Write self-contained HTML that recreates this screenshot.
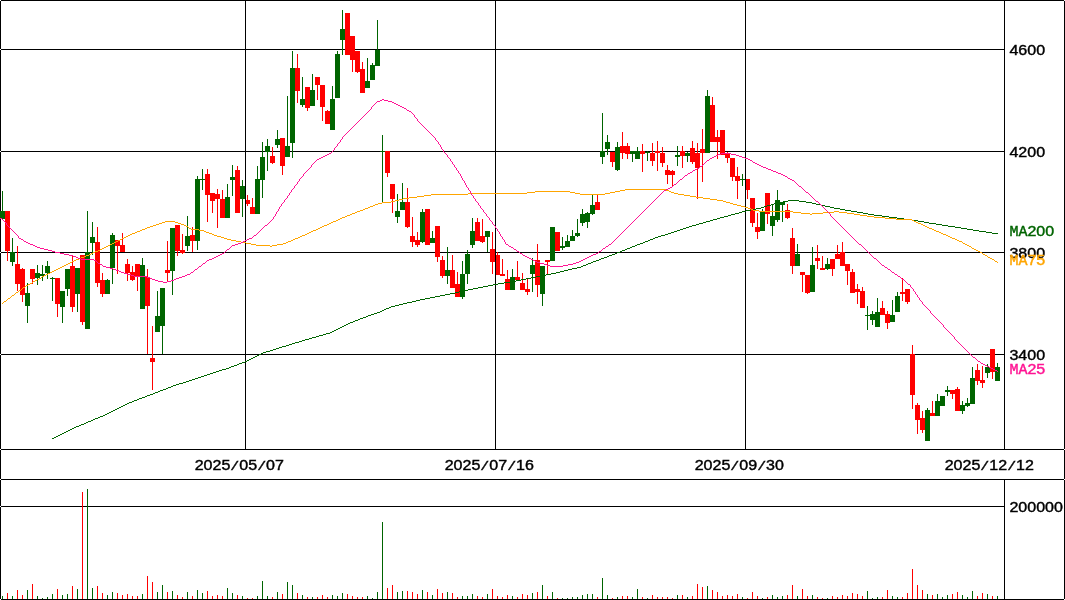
<!DOCTYPE html>
<html lang="ja"><head><meta charset="utf-8"><title>Stock chart</title>
<style>html,body{margin:0;padding:0;background:#fff;overflow:hidden}svg{display:block}text{font-family:"Liberation Sans", sans-serif;font-size:13.85px;}#w{will-change:transform;width:1065px;height:600px}</style></head><body><div id="w">
<svg width="1065" height="600" viewBox="0 0 1065 600">
<rect x="0" y="0" width="1065" height="600" fill="#fff"/>
<g shape-rendering="crispEdges">
<path fill="#000" d="M0 0h1065v1h-1065zM0 599h1065v1h-1065zM0 0v600h1v-600zM1064 0v600h1v-600zM0 49h1005v1h-1005zM0 151h1005v1h-1005zM0 252h1005v1h-1005zM0 354h1005v1h-1005zM0 449h1065v1h-1065zM0 479h1065v1h-1065zM0 506h1005v1h-1005z"/>
</g>
<g shape-rendering="crispEdges">
<path fill="#ff0000" d="M7 211h1v50h-1zM5 211h5v40h-5zM17 246h1v45h-1zM15 264h5v20h-5zM22 268h1v34h-1zM20 269h5v26h-5zM32 269h1v15h-1zM30 269h5v10h-5zM57 278h1v39h-1zM55 278h5v26h-5zM72 255h1v57h-1zM70 266h5v41h-5zM82 255h1v70h-1zM80 255h5v67h-5zM97 227h1v60h-1zM95 242h5v41h-5zM102 273h1v24h-1zM100 280h5v14h-5zM117 240h1v34h-1zM115 240h5v6h-5zM122 233h1v19h-1zM120 245h5v7h-5zM127 259h1v22h-1zM125 264h5v9h-5zM132 266h1v15h-1zM130 272h5v8h-5zM137 264h1v27h-1zM135 264h5v13h-5zM147 269h1v85h-1zM145 277h5v29h-5zM152 326h1v64h-1zM150 358h5v4h-5zM167 241h1v40h-1zM165 270h5v3h-5zM177 225h1v31h-1zM175 225h5v26h-5zM182 234h1v20h-1zM180 250h5v3h-5zM192 227h1v25h-1zM190 235h5v6h-5zM207 169h1v53h-1zM205 174h5v21h-5zM212 193h1v20h-1zM210 193h5v8h-5zM217 189h1v39h-1zM215 194h5v5h-5zM222 190h1v28h-1zM220 199h5v19h-5zM237 166h1v47h-1zM235 170h5v43h-5zM247 195h1v11h-1zM245 200h5v4h-5zM252 198h1v16h-1zM250 207h5v7h-5zM272 147h1v17h-1zM270 156h5v7h-5zM282 138h1v37h-1zM280 138h5v28h-5zM297 54h1v49h-1zM295 68h5v23h-5zM307 87h1v24h-1zM305 87h5v21h-5zM317 77h1v23h-1zM315 77h5v8h-5zM322 85h1v36h-1zM320 85h5v22h-5zM327 110h1v14h-1zM325 111h5v13h-5zM347 13h1v42h-1zM345 13h5v42h-5zM352 36h1v36h-1zM350 36h5v24h-5zM357 51h1v22h-1zM355 51h5v21h-5zM362 62h1v31h-1zM360 69h5v24h-5zM387 151h1v26h-1zM385 151h5v22h-5zM392 184h1v29h-1zM390 184h5v15h-5zM407 188h1v40h-1zM405 202h5v25h-5zM412 217h1v30h-1zM410 236h5v6h-5zM417 232h1v15h-1zM415 240h5v5h-5zM427 209h1v36h-1zM425 209h5v36h-5zM437 226h1v36h-1zM435 226h5v31h-5zM442 256h1v22h-1zM440 260h5v16h-5zM452 255h1v33h-1zM450 270h5v18h-5zM457 272h1v25h-1zM455 284h5v13h-5zM477 218h1v23h-1zM475 222h5v19h-5zM482 219h1v24h-1zM480 236h5v6h-5zM492 232h1v42h-1zM490 249h5v13h-5zM497 252h1v23h-1zM495 255h5v20h-5zM502 259h1v17h-1zM500 274h5v2h-5zM507 270h1v20h-1zM505 279h5v11h-5zM517 261h1v19h-1zM515 277h5v3h-5zM522 273h1v17h-1zM520 283h5v7h-5zM527 279h1v16h-1zM525 289h5v3h-5zM537 244h1v53h-1zM535 260h5v25h-5zM547 260h1v15h-1zM545 260h5v2h-5zM557 232h1v19h-1zM555 232h5v19h-5zM597 194h1v16h-1zM595 202h5v8h-5zM612 152h1v15h-1zM610 152h5v10h-5zM622 132h1v27h-1zM620 146h5v7h-5zM627 143h1v16h-1zM625 146h5v8h-5zM642 144h1v28h-1zM640 151h5v3h-5zM652 143h1v23h-1zM650 153h5v8h-5zM657 141h1v30h-1zM655 151h5v2h-5zM662 147h1v20h-1zM660 153h5v10h-5zM667 165h1v19h-1zM665 170h5v5h-5zM672 170h1v16h-1zM670 171h5v4h-5zM682 146h1v22h-1zM680 151h5v5h-5zM692 141h1v23h-1zM690 148h5v14h-5zM697 143h1v56h-1zM695 153h5v15h-5zM702 129h1v53h-1zM700 149h5v4h-5zM712 97h1v45h-1zM710 105h5v37h-5zM717 130h1v29h-1zM715 137h5v5h-5zM722 130h1v25h-1zM720 130h5v25h-5zM727 152h1v11h-1zM725 153h5v5h-5zM732 158h1v23h-1zM730 158h5v19h-5zM737 167h1v32h-1zM735 176h5v5h-5zM747 179h1v20h-1zM745 179h5v11h-5zM752 198h1v29h-1zM750 198h5v25h-5zM757 213h1v26h-1zM755 227h5v5h-5zM767 193h1v31h-1zM765 193h5v21h-5zM787 204h1v15h-1zM785 210h5v8h-5zM792 228h1v46h-1zM790 238h5v28h-5zM802 272h1v20h-1zM800 272h5v3h-5zM807 275h1v19h-1zM805 275h5v18h-5zM817 245h1v24h-1zM815 258h5v3h-5zM822 256h1v14h-1zM820 268h5v2h-5zM832 259h1v17h-1zM830 259h5v10h-5zM837 245h1v14h-1zM835 254h5v5h-5zM842 242h1v24h-1zM840 252h5v14h-5zM847 264h1v21h-1zM845 264h5v7h-5zM852 269h1v24h-1zM850 272h5v21h-5zM857 284h1v20h-1zM855 289h5v3h-5zM862 287h1v21h-1zM860 291h5v17h-5zM882 301h1v14h-1zM880 308h5v7h-5zM887 311h1v18h-1zM885 314h5v9h-5zM902 278h1v23h-1zM900 292h5v2h-5zM907 289h1v15h-1zM905 289h5v13h-5zM912 345h1v64h-1zM910 354h5v41h-5zM917 403h1v31h-1zM915 405h5v15h-5zM922 411h1v22h-1zM920 418h5v12h-5zM932 401h1v15h-1zM930 413h5v3h-5zM952 390h1v9h-1zM950 390h5v4h-5zM957 387h1v24h-1zM955 389h5v22h-5zM977 364h1v21h-1zM975 370h5v11h-5zM982 366h1v22h-1zM980 380h5v3h-5zM992 349h1v30h-1zM990 349h5v23h-5z"/>
<path fill="#006400" d="M2 191h1v28h-1zM0 211h5v8h-5zM12 238h1v28h-1zM10 252h5v10h-5zM27 283h1v40h-1zM25 293h5v13h-5zM37 265h1v20h-1zM35 273h5v5h-5zM42 265h1v16h-1zM40 274h5v2h-5zM47 261h1v18h-1zM45 266h5v7h-5zM52 277h1v24h-1zM50 278h5v1h-5zM62 291h1v32h-1zM60 291h5v16h-5zM67 269h1v27h-1zM65 269h5v20h-5zM77 268h1v44h-1zM75 268h5v26h-5zM87 211h1v118h-1zM85 252h5v77h-5zM92 222h1v33h-1zM90 237h5v6h-5zM107 279h1v15h-1zM105 280h5v14h-5zM112 233h1v51h-1zM110 235h5v33h-5zM142 258h1v51h-1zM140 265h5v44h-5zM157 291h1v41h-1zM155 316h5v16h-5zM162 288h1v66h-1zM160 288h5v38h-5zM172 228h1v67h-1zM170 228h5v43h-5zM187 216h1v35h-1zM185 236h5v10h-5zM197 176h1v74h-1zM195 179h5v62h-5zM202 169h1v21h-1zM200 179h5v1h-5zM227 184h1v34h-1zM225 197h5v21h-5zM232 165h1v31h-1zM230 177h5v3h-5zM242 180h1v37h-1zM240 186h5v13h-5zM257 166h1v48h-1zM255 179h5v35h-5zM262 142h1v56h-1zM260 157h5v23h-5zM267 139h1v32h-1zM265 146h5v6h-5zM277 130h1v18h-1zM275 139h5v6h-5zM287 96h1v61h-1zM285 146h5v11h-5zM292 51h1v107h-1zM290 68h5v75h-5zM302 77h1v30h-1zM300 99h5v6h-5zM312 74h1v32h-1zM310 90h5v16h-5zM332 86h1v44h-1zM330 99h5v31h-5zM337 51h1v47h-1zM335 54h5v44h-5zM342 10h1v45h-1zM340 29h5v11h-5zM367 58h1v30h-1zM365 81h5v7h-5zM372 63h1v17h-1zM370 65h5v15h-5zM377 20h1v46h-1zM375 50h5v16h-5zM382 135h1v67h-1zM380 151h5v1h-5zM397 194h1v29h-1zM395 211h5v6h-5zM402 183h1v27h-1zM400 202h5v8h-5zM422 209h1v34h-1zM420 212h5v30h-5zM432 231h1v12h-1zM430 238h5v5h-5zM447 247h1v37h-1zM445 270h5v6h-5zM462 261h1v38h-1zM460 274h5v23h-5zM467 250h1v34h-1zM465 254h5v20h-5zM472 218h1v30h-1zM470 231h5v14h-5zM487 231h1v21h-1zM485 231h5v6h-5zM512 269h1v21h-1zM510 277h5v13h-5zM532 258h1v34h-1zM530 265h5v9h-5zM542 266h1v40h-1zM540 266h5v28h-5zM552 227h1v34h-1zM550 227h5v34h-5zM562 237h1v13h-1zM560 246h5v2h-5zM567 235h1v12h-1zM565 241h5v6h-5zM572 230h1v11h-1zM570 236h5v5h-5zM577 219h1v18h-1zM575 233h5v3h-5zM582 209h1v17h-1zM580 214h5v9h-5zM587 212h1v16h-1zM585 213h5v9h-5zM592 194h1v21h-1zM590 205h5v9h-5zM602 113h1v51h-1zM600 151h5v6h-5zM607 135h1v20h-1zM605 142h5v7h-5zM617 142h1v29h-1zM615 147h5v23h-5zM632 151h1v11h-1zM630 151h5v3h-5zM637 147h1v12h-1zM635 151h5v8h-5zM647 151h1v10h-1zM645 152h5v1h-5zM677 146h1v20h-1zM675 155h5v2h-5zM687 152h1v10h-1zM685 153h5v3h-5zM707 90h1v63h-1zM705 96h5v57h-5zM742 174h1v12h-1zM740 179h5v1h-5zM762 209h1v22h-1zM760 212h5v19h-5zM772 204h1v32h-1zM770 216h5v10h-5zM777 190h1v32h-1zM775 200h5v20h-5zM782 202h1v20h-1zM780 202h5v3h-5zM797 244h1v22h-1zM795 254h5v12h-5zM812 247h1v45h-1zM810 265h5v27h-5zM827 258h1v12h-1zM825 264h5v5h-5zM867 306h1v24h-1zM865 315h5v1h-5zM872 311h1v14h-1zM870 314h5v6h-5zM877 298h1v29h-1zM875 312h5v15h-5zM892 300h1v22h-1zM890 315h5v7h-5zM897 292h1v20h-1zM895 296h5v16h-5zM927 408h1v33h-1zM925 410h5v31h-5zM937 394h1v22h-1zM935 401h5v15h-5zM942 396h1v10h-1zM940 396h5v10h-5zM947 386h1v10h-1zM945 390h5v2h-5zM962 401h1v13h-1zM960 405h5v6h-5zM967 398h1v9h-1zM965 403h5v3h-5zM972 367h1v37h-1zM970 378h5v26h-5zM987 364h1v14h-1zM985 367h5v6h-5zM997 363h1v18h-1zM995 367h5v14h-5z"/>
<path fill="#ff0000" d="M7 593h1v6h-1zM17 590h1v9h-1zM22 595h1v4h-1zM32 584h1v15h-1zM57 589h1v10h-1zM72 586h1v13h-1zM82 492h1v107h-1zM97 586h1v13h-1zM102 593h1v6h-1zM117 593h1v6h-1zM122 595h1v4h-1zM127 594h1v5h-1zM132 596h1v3h-1zM137 596h1v3h-1zM147 576h1v23h-1zM152 582h1v17h-1zM167 592h1v7h-1zM177 595h1v4h-1zM182 597h1v2h-1zM192 596h1v3h-1zM207 591h1v8h-1zM212 596h1v3h-1zM217 595h1v4h-1zM222 596h1v3h-1zM237 595h1v4h-1zM247 598h1v1h-1zM252 598h1v1h-1zM272 597h1v2h-1zM282 594h1v5h-1zM297 593h1v6h-1zM307 597h1v2h-1zM317 597h1v2h-1zM322 595h1v4h-1zM327 597h1v2h-1zM347 594h1v5h-1zM352 596h1v3h-1zM357 597h1v2h-1zM362 597h1v2h-1zM387 588h1v11h-1zM392 585h1v14h-1zM407 591h1v8h-1zM412 592h1v7h-1zM417 594h1v5h-1zM427 592h1v7h-1zM437 589h1v10h-1zM442 593h1v6h-1zM452 593h1v6h-1zM457 597h1v2h-1zM477 596h1v3h-1zM482 597h1v2h-1zM492 589h1v10h-1zM497 596h1v3h-1zM502 597h1v2h-1zM507 595h1v4h-1zM517 597h1v2h-1zM522 594h1v5h-1zM527 595h1v4h-1zM537 592h1v7h-1zM547 596h1v3h-1zM557 598h1v1h-1zM597 597h1v2h-1zM612 598h1v1h-1zM622 596h1v3h-1zM627 596h1v3h-1zM642 597h1v2h-1zM652 595h1v4h-1zM657 597h1v2h-1zM662 597h1v2h-1zM667 597h1v2h-1zM672 598h1v1h-1zM682 595h1v4h-1zM692 596h1v3h-1zM697 584h1v15h-1zM702 587h1v12h-1zM712 590h1v9h-1zM717 592h1v7h-1zM722 596h1v3h-1zM727 595h1v4h-1zM732 596h1v3h-1zM737 594h1v5h-1zM747 598h1v1h-1zM752 592h1v7h-1zM757 596h1v3h-1zM767 597h1v2h-1zM787 595h1v4h-1zM792 585h1v14h-1zM802 589h1v10h-1zM807 596h1v3h-1zM817 597h1v2h-1zM822 598h1v1h-1zM832 596h1v3h-1zM837 597h1v2h-1zM842 595h1v4h-1zM847 596h1v3h-1zM852 593h1v6h-1zM857 594h1v5h-1zM862 596h1v3h-1zM882 597h1v2h-1zM887 590h1v9h-1zM902 597h1v2h-1zM907 593h1v6h-1zM912 569h1v30h-1zM917 585h1v14h-1zM922 590h1v9h-1zM932 595h1v4h-1zM952 594h1v5h-1zM957 592h1v7h-1zM977 596h1v3h-1zM982 593h1v6h-1zM992 596h1v3h-1z"/>
<path fill="#006400" d="M2 596h1v3h-1zM12 596h1v3h-1zM27 590h1v9h-1zM37 596h1v3h-1zM42 598h1v1h-1zM47 597h1v2h-1zM52 594h1v5h-1zM62 595h1v4h-1zM67 594h1v5h-1zM77 589h1v10h-1zM87 489h1v110h-1zM92 588h1v11h-1zM107 595h1v4h-1zM112 592h1v7h-1zM142 594h1v5h-1zM157 592h1v7h-1zM162 585h1v14h-1zM172 591h1v8h-1zM187 592h1v7h-1zM197 590h1v9h-1zM202 593h1v6h-1zM227 588h1v11h-1zM232 593h1v6h-1zM242 596h1v3h-1zM257 596h1v3h-1zM262 581h1v18h-1zM267 596h1v3h-1zM277 592h1v7h-1zM287 582h1v17h-1zM292 585h1v14h-1zM302 595h1v4h-1zM312 597h1v2h-1zM332 595h1v4h-1zM337 596h1v3h-1zM342 593h1v6h-1zM367 596h1v3h-1zM372 598h1v1h-1zM377 592h1v7h-1zM382 522h1v77h-1zM397 592h1v7h-1zM402 591h1v8h-1zM422 590h1v9h-1zM432 595h1v4h-1zM447 592h1v7h-1zM462 596h1v3h-1zM467 596h1v3h-1zM472 594h1v5h-1zM487 594h1v5h-1zM512 596h1v3h-1zM532 593h1v6h-1zM542 585h1v14h-1zM552 592h1v7h-1zM562 598h1v1h-1zM567 598h1v1h-1zM572 597h1v2h-1zM577 597h1v2h-1zM582 595h1v4h-1zM587 594h1v5h-1zM592 594h1v5h-1zM602 578h1v21h-1zM607 595h1v4h-1zM617 597h1v2h-1zM632 597h1v2h-1zM637 589h1v10h-1zM647 598h1v1h-1zM677 595h1v4h-1zM687 597h1v2h-1zM707 586h1v13h-1zM742 597h1v2h-1zM762 598h1v1h-1zM772 595h1v4h-1zM777 597h1v2h-1zM782 596h1v3h-1zM797 596h1v3h-1zM812 595h1v4h-1zM827 598h1v1h-1zM867 591h1v8h-1zM872 598h1v1h-1zM877 597h1v2h-1zM892 596h1v3h-1zM897 597h1v2h-1zM927 594h1v5h-1zM937 594h1v5h-1zM942 597h1v2h-1zM947 595h1v4h-1zM962 595h1v4h-1zM967 597h1v2h-1zM972 591h1v8h-1zM987 594h1v5h-1zM997 596h1v3h-1z"/>
<path fill="#000" d="M245 0v450h1v-450zM495 0v450h1v-450zM745 0v450h1v-450zM1004 0v450h1v-450zM1004 479v121h1v-121z"/>
</g>
<path fill="#006400" shape-rendering="crispEdges" d="M52 438h2v1h-2zM54 437h2v1h-2zM56 436h2v1h-2zM58 435h2v1h-2zM60 434h2v1h-2zM62 433h2v1h-2zM64 432h2v1h-2zM66 431h2v1h-2zM68 430h2v1h-2zM70 429h2v1h-2zM72 428h2v1h-2zM74 427h2v1h-2zM76 426h3v1h-3zM79 425h2v1h-2zM81 424h3v1h-3zM84 423h2v1h-2zM86 422h2v1h-2zM88 421h3v1h-3zM91 420h2v1h-2zM93 419h2v1h-2zM95 418h3v1h-3zM98 417h2v1h-2zM100 416h3v1h-3zM103 415h2v1h-2zM105 414h2v1h-2zM107 413h2v1h-2zM109 412h2v1h-2zM111 411h2v1h-2zM113 410h2v1h-2zM115 409h2v1h-2zM117 408h2v1h-2zM119 407h2v1h-2zM121 406h2v1h-2zM123 405h2v1h-2zM125 404h2v1h-2zM127 403h2v1h-2zM129 402h3v1h-3zM132 401h2v1h-2zM134 400h3v1h-3zM137 399h2v1h-2zM139 398h3v1h-3zM142 397h3v1h-3zM145 396h2v1h-2zM147 395h3v1h-3zM150 394h3v1h-3zM153 393h2v1h-2zM155 392h3v1h-3zM158 391h2v1h-2zM160 390h3v1h-3zM163 389h3v1h-3zM166 388h2v1h-2zM168 387h3v1h-3zM171 386h2v1h-2zM173 385h3v1h-3zM176 384h3v1h-3zM179 383h4v1h-4zM183 382h3v1h-3zM186 381h3v1h-3zM189 380h3v1h-3zM192 379h3v1h-3zM195 378h3v1h-3zM198 377h3v1h-3zM201 376h3v1h-3zM204 375h3v1h-3zM207 374h3v1h-3zM210 373h3v1h-3zM213 372h3v1h-3zM216 371h3v1h-3zM219 370h3v1h-3zM222 369h4v1h-4zM226 368h3v1h-3zM229 367h2v1h-2zM231 366h3v1h-3zM234 365h3v1h-3zM237 364h2v1h-2zM239 363h3v1h-3zM242 362h3v1h-3zM245 361h2v1h-2zM247 360h2v1h-2zM249 359h2v1h-2zM251 358h2v1h-2zM253 357h2v1h-2zM255 356h2v1h-2zM257 355h2v1h-2zM259 354h2v1h-2zM261 353h2v1h-2zM263 352h3v1h-3zM266 351h4v1h-4zM270 350h3v1h-3zM273 349h3v1h-3zM276 348h3v1h-3zM279 347h3v1h-3zM282 346h4v1h-4zM286 345h3v1h-3zM289 344h3v1h-3zM292 343h3v1h-3zM295 342h4v1h-4zM299 341h3v1h-3zM302 340h3v1h-3zM305 339h4v1h-4zM309 338h3v1h-3zM312 337h4v1h-4zM316 336h3v1h-3zM319 335h4v1h-4zM323 334h3v1h-3zM326 333h4v1h-4zM330 332h2v1h-2zM332 331h2v1h-2zM334 330h2v1h-2zM336 329h2v1h-2zM338 328h2v1h-2zM340 327h2v1h-2zM342 326h2v1h-2zM344 325h2v1h-2zM346 324h2v1h-2zM348 323h2v1h-2zM350 322h3v1h-3zM353 321h2v1h-2zM355 320h3v1h-3zM358 319h2v1h-2zM360 318h3v1h-3zM363 317h3v1h-3zM366 316h2v1h-2zM368 315h3v1h-3zM371 314h3v1h-3zM374 313h3v1h-3zM377 312h3v1h-3zM380 311h2v1h-2zM382 310h2v1h-2zM384 309h2v1h-2zM386 308h3v1h-3zM389 307h2v1h-2zM391 306h4v1h-4zM395 305h4v1h-4zM399 304h4v1h-4zM403 303h4v1h-4zM407 302h5v1h-5zM412 301h4v1h-4zM416 300h4v1h-4zM420 299h5v1h-5zM425 298h5v1h-5zM430 297h5v1h-5zM435 296h5v1h-5zM440 295h5v1h-5zM445 294h5v1h-5zM450 293h5v1h-5zM455 292h4v1h-4zM459 291h5v1h-5zM464 290h4v1h-4zM468 289h5v1h-5zM473 288h5v1h-5zM478 287h5v1h-5zM483 286h5v1h-5zM488 285h5v1h-5zM493 284h5v1h-5zM498 283h6v1h-6zM504 282h6v1h-6zM510 281h6v1h-6zM516 280h5v1h-5zM521 279h5v1h-5zM526 278h5v1h-5zM531 277h5v1h-5zM536 276h5v1h-5zM541 275h5v1h-5zM546 274h5v1h-5zM551 273h5v1h-5zM556 272h4v1h-4zM560 271h4v1h-4zM564 270h4v1h-4zM568 269h4v1h-4zM572 268h5v1h-5zM577 267h4v1h-4zM581 266h2v1h-2zM583 265h3v1h-3zM586 264h2v1h-2zM588 263h3v1h-3zM591 262h2v1h-2zM593 261h3v1h-3zM596 260h3v1h-3zM599 259h2v1h-2zM601 258h3v1h-3zM604 257h3v1h-3zM607 256h2v1h-2zM609 255h3v1h-3zM612 254h3v1h-3zM615 253h2v1h-2zM617 252h3v1h-3zM620 251h2v1h-2zM622 250h3v1h-3zM625 249h2v1h-2zM627 248h3v1h-3zM630 247h2v1h-2zM632 246h3v1h-3zM635 245h2v1h-2zM637 244h3v1h-3zM640 243h3v1h-3zM643 242h2v1h-2zM645 241h3v1h-3zM648 240h2v1h-2zM650 239h3v1h-3zM653 238h2v1h-2zM655 237h3v1h-3zM658 236h3v1h-3zM661 235h4v1h-4zM665 234h3v1h-3zM668 233h3v1h-3zM671 232h3v1h-3zM674 231h3v1h-3zM677 230h3v1h-3zM680 229h3v1h-3zM683 228h3v1h-3zM686 227h3v1h-3zM689 226h3v1h-3zM692 225h4v1h-4zM696 224h3v1h-3zM699 223h4v1h-4zM703 222h3v1h-3zM706 221h4v1h-4zM710 220h3v1h-3zM713 219h4v1h-4zM717 218h3v1h-3zM720 217h4v1h-4zM724 216h4v1h-4zM728 215h3v1h-3zM731 214h4v1h-4zM735 213h4v1h-4zM739 212h3v1h-3zM742 211h4v1h-4zM746 210h5v1h-5zM751 209h5v1h-5zM756 208h5v1h-5zM761 207h3v1h-3zM764 206h3v1h-3zM767 205h4v1h-4zM771 204h3v1h-3zM774 203h4v1h-4zM778 202h5v1h-5zM783 201h5v1h-5zM788 200h11v1h-11zM799 201h7v1h-7zM806 202h6v1h-6zM812 203h4v1h-4zM816 204h5v1h-5zM821 205h4v1h-4zM825 206h5v1h-5zM830 207h4v1h-4zM834 208h6v1h-6zM840 209h5v1h-5zM845 210h6v1h-6zM851 211h6v1h-6zM857 212h6v1h-6zM863 213h5v1h-5zM868 214h6v1h-6zM874 215h8v1h-8zM882 216h7v1h-7zM889 217h8v1h-8zM897 218h7v1h-7zM904 219h8v1h-8zM912 220h6v1h-6zM918 221h6v1h-6zM924 222h5v1h-5zM929 223h7v1h-7zM936 224h6v1h-6zM942 225h6v1h-6zM948 226h7v1h-7zM955 227h6v1h-6zM961 228h6v1h-6zM967 229h6v1h-6zM973 230h6v1h-6zM979 231h7v1h-7zM986 232h6v1h-6zM992 233h6v1h-6z"/>
<path fill="#ffa500" shape-rendering="crispEdges" d="M2 303h1v1h-1zM3 302h1v1h-1zM4 301h2v1h-2zM6 300h1v1h-1zM7 299h1v1h-1zM8 298h2v1h-2zM10 297h1v1h-1zM11 296h1v1h-1zM12 295h2v1h-2zM14 294h1v1h-1zM15 293h1v1h-1zM16 292h2v1h-2zM18 291h1v1h-1zM19 290h2v1h-2zM21 289h1v1h-1zM22 288h1v1h-1zM23 287h2v1h-2zM25 286h1v1h-1zM26 285h2v1h-2zM28 284h2v1h-2zM30 283h2v1h-2zM32 282h1v1h-1zM33 281h2v1h-2zM35 280h2v1h-2zM37 279h2v1h-2zM39 278h2v1h-2zM41 277h1v1h-1zM42 276h2v1h-2zM44 275h2v1h-2zM46 274h2v1h-2zM48 273h2v1h-2zM50 272h2v1h-2zM52 271h2v1h-2zM54 270h2v1h-2zM56 269h2v1h-2zM58 268h2v1h-2zM60 267h2v1h-2zM62 266h2v1h-2zM64 265h2v1h-2zM66 264h2v1h-2zM68 263h2v1h-2zM70 262h2v1h-2zM72 261h2v1h-2zM74 260h2v1h-2zM76 259h3v1h-3zM79 258h2v1h-2zM81 257h3v1h-3zM84 256h2v1h-2zM86 255h3v1h-3zM89 254h2v1h-2zM91 253h2v1h-2zM93 252h2v1h-2zM95 251h3v1h-3zM98 250h2v1h-2zM100 249h2v1h-2zM102 248h2v1h-2zM104 247h2v1h-2zM106 246h2v1h-2zM108 245h2v1h-2zM110 244h2v1h-2zM112 243h2v1h-2zM114 242h2v1h-2zM116 241h2v1h-2zM118 240h2v1h-2zM120 239h2v1h-2zM122 238h2v1h-2zM124 237h2v1h-2zM126 236h2v1h-2zM128 235h2v1h-2zM130 234h2v1h-2zM132 233h3v1h-3zM135 232h2v1h-2zM137 231h3v1h-3zM140 230h2v1h-2zM142 229h3v1h-3zM145 228h2v1h-2zM147 227h3v1h-3zM150 226h3v1h-3zM153 225h3v1h-3zM156 224h3v1h-3zM159 223h3v1h-3zM162 222h3v1h-3zM165 221h10v1h-10zM175 222h3v1h-3zM178 223h3v1h-3zM181 224h3v1h-3zM184 225h2v1h-2zM186 226h2v1h-2zM188 227h1v1h-1zM189 228h2v1h-2zM191 229h8v1h-8zM199 230h5v1h-5zM204 231h2v1h-2zM206 232h3v1h-3zM209 233h3v1h-3zM212 234h2v1h-2zM214 235h3v1h-3zM217 236h4v1h-4zM221 237h3v1h-3zM224 238h3v1h-3zM227 239h4v1h-4zM231 240h5v1h-5zM236 241h5v1h-5zM241 242h5v1h-5zM246 243h5v1h-5zM251 244h5v1h-5zM256 245h14v1h-14zM270 246h2v1h-2zM272 245h5v1h-5zM277 244h6v1h-6zM283 243h3v1h-3zM286 242h2v1h-2zM288 241h3v1h-3zM291 240h2v1h-2zM293 239h2v1h-2zM295 238h3v1h-3zM298 237h2v1h-2zM300 236h2v1h-2zM302 235h3v1h-3zM305 234h2v1h-2zM307 233h2v1h-2zM309 232h2v1h-2zM311 231h2v1h-2zM313 230h3v1h-3zM316 229h2v1h-2zM318 228h2v1h-2zM320 227h2v1h-2zM322 226h2v1h-2zM324 225h3v1h-3zM327 224h2v1h-2zM329 223h2v1h-2zM331 222h2v1h-2zM333 221h3v1h-3zM336 220h2v1h-2zM338 219h2v1h-2zM340 218h2v1h-2zM342 217h3v1h-3zM345 216h2v1h-2zM347 215h3v1h-3zM350 214h2v1h-2zM352 213h3v1h-3zM355 212h2v1h-2zM357 211h3v1h-3zM360 210h3v1h-3zM363 209h2v1h-2zM365 208h3v1h-3zM368 207h2v1h-2zM370 206h3v1h-3zM373 205h2v1h-2zM375 204h3v1h-3zM378 203h4v1h-4zM382 202h9v1h-9zM391 201h4v1h-4zM395 200h4v1h-4zM399 199h4v1h-4zM403 198h6v1h-6zM409 197h8v1h-8zM417 196h7v1h-7zM424 195h7v1h-7zM431 194h37v1h-37zM468 193h59v1h-59zM527 192h8v1h-8zM535 191h35v1h-35zM570 192h5v1h-5zM575 193h5v1h-5zM580 194h25v1h-25zM605 193h5v1h-5zM610 192h5v1h-5zM615 191h5v1h-5zM620 190h5v1h-5zM625 189h41v1h-41zM666 190h3v1h-3zM669 191h2v1h-2zM671 192h3v1h-3zM674 193h4v1h-4zM678 194h6v1h-6zM684 195h6v1h-6zM690 196h6v1h-6zM696 197h7v1h-7zM703 198h7v1h-7zM710 199h7v1h-7zM717 200h6v1h-6zM723 201h3v1h-3zM726 202h4v1h-4zM730 203h3v1h-3zM733 204h4v1h-4zM737 205h4v1h-4zM741 206h4v1h-4zM745 207h3v1h-3zM748 208h3v1h-3zM751 209h2v1h-2zM753 210h6v1h-6zM759 211h34v1h-34zM793 212h8v1h-8zM801 213h9v1h-9zM810 214h2v1h-2zM812 213h11v1h-11zM823 212h11v1h-11zM834 211h5v1h-5zM839 212h8v1h-8zM847 213h7v1h-7zM854 214h6v1h-6zM860 215h7v1h-7zM867 216h7v1h-7zM874 217h11v1h-11zM885 218h11v1h-11zM896 219h16v1h-16zM912 220h2v1h-2zM914 221h2v1h-2zM916 222h2v1h-2zM918 223h3v1h-3zM921 224h2v1h-2zM923 225h2v1h-2zM925 226h2v1h-2zM927 227h2v1h-2zM929 228h3v1h-3zM932 229h2v1h-2zM934 230h2v1h-2zM936 231h3v1h-3zM939 232h2v1h-2zM941 233h2v1h-2zM943 234h3v1h-3zM946 235h2v1h-2zM948 236h2v1h-2zM950 237h2v1h-2zM952 238h3v1h-3zM955 239h2v1h-2zM957 240h2v1h-2zM959 241h3v1h-3zM962 242h1v1h-1zM963 243h2v1h-2zM965 244h2v1h-2zM967 245h2v1h-2zM969 246h2v1h-2zM971 247h1v1h-1zM972 248h2v1h-2zM974 249h2v1h-2zM976 250h2v1h-2zM978 251h2v1h-2zM980 252h2v1h-2zM982 253h1v1h-1zM983 254h2v1h-2zM985 255h2v1h-2zM987 256h1v1h-1zM988 257h2v1h-2zM990 258h2v1h-2zM992 259h2v1h-2zM994 260h1v1h-1zM995 261h2v1h-2zM997 262h1v1h-1z"/>
<path fill="#ff1493" shape-rendering="crispEdges" d="M0 218h2v1h-2zM2 219h1v1h-1zM3 220h1v1h-1zM4 221h1v1h-1zM5 222h1v1h-1zM6 223h1v2h-1zM7 225h1v1h-1zM8 226h1v1h-1zM9 227h1v1h-1zM10 228h1v1h-1zM11 229h1v1h-1zM12 230h1v1h-1zM13 231h1v1h-1zM14 232h1v1h-1zM15 233h1v1h-1zM16 234h1v1h-1zM17 235h1v1h-1zM18 236h1v2h-1zM19 238h2v1h-2zM21 239h2v1h-2zM23 240h1v1h-1zM24 241h2v1h-2zM26 242h2v1h-2zM28 243h2v1h-2zM30 244h3v1h-3zM33 245h2v1h-2zM35 246h2v1h-2zM37 247h3v1h-3zM40 248h4v1h-4zM44 249h4v1h-4zM48 250h4v1h-4zM52 251h3v1h-3zM55 252h5v1h-5zM60 253h4v1h-4zM64 254h5v1h-5zM69 255h4v1h-4zM73 256h3v1h-3zM76 257h2v1h-2zM78 258h3v1h-3zM81 259h13v1h-13zM94 260h2v1h-2zM96 261h1v1h-1zM97 262h1v1h-1zM98 263h2v1h-2zM100 264h2v1h-2zM102 265h1v1h-1zM103 266h3v1h-3zM106 267h4v1h-4zM110 268h3v1h-3zM113 269h3v1h-3zM116 270h3v1h-3zM119 271h2v1h-2zM121 272h3v1h-3zM124 273h3v1h-3zM127 274h4v1h-4zM131 275h3v1h-3zM134 276h13v1h-13zM147 277h3v1h-3zM150 278h2v1h-2zM152 279h3v1h-3zM155 280h3v1h-3zM158 281h5v1h-5zM163 282h4v1h-4zM167 281h4v1h-4zM171 280h3v1h-3zM174 279h2v1h-2zM176 278h3v1h-3zM179 277h3v1h-3zM182 276h3v1h-3zM185 275h2v1h-2zM187 274h3v1h-3zM190 273h1v1h-1zM191 272h2v1h-2zM193 271h1v1h-1zM194 270h1v1h-1zM195 269h2v1h-2zM197 268h1v1h-1zM198 267h1v1h-1zM199 266h2v1h-2zM201 265h1v1h-1zM202 264h1v1h-1zM203 263h2v1h-2zM205 262h1v1h-1zM206 261h1v1h-1zM207 260h2v1h-2zM209 259h3v1h-3zM212 258h2v1h-2zM214 257h2v1h-2zM216 256h2v1h-2zM218 255h2v1h-2zM220 254h2v1h-2zM222 253h2v1h-2zM224 252h1v1h-1zM225 251h1v1h-1zM226 250h1v1h-1zM227 249h2v1h-2zM229 248h1v1h-1zM230 247h1v1h-1zM231 246h1v1h-1zM232 245h3v1h-3zM235 244h3v1h-3zM238 243h3v1h-3zM241 242h2v1h-2zM243 241h2v1h-2zM245 240h2v1h-2zM247 239h2v1h-2zM249 238h3v1h-3zM252 237h1v1h-1zM253 236h1v1h-1zM254 235h2v1h-2zM256 234h1v1h-1zM257 233h1v1h-1zM258 232h1v1h-1zM259 231h1v1h-1zM260 230h1v1h-1zM261 229h1v1h-1zM262 228h1v1h-1zM263 227h1v1h-1zM264 226h1v1h-1zM265 225h2v1h-2zM267 224h1v1h-1zM268 223h1v1h-1zM269 222h1v1h-1zM270 221h1v1h-1zM271 220h1v1h-1zM272 219h1v1h-1zM273 217h1v2h-1zM274 216h1v1h-1zM275 214h1v2h-1zM276 212h1v2h-1zM277 211h1v1h-1zM278 209h1v2h-1zM279 207h1v2h-1zM280 206h1v1h-1zM281 204h1v2h-1zM282 203h1v1h-1zM283 202h1v1h-1zM284 200h1v2h-1zM285 199h1v1h-1zM286 198h1v1h-1zM287 196h1v2h-1zM288 195h1v1h-1zM289 193h1v2h-1zM290 192h1v1h-1zM291 190h1v2h-1zM292 189h1v1h-1zM293 188h1v1h-1zM294 186h1v2h-1zM295 185h1v1h-1zM296 184h1v1h-1zM297 182h1v2h-1zM298 181h1v1h-1zM299 179h1v2h-1zM300 178h1v1h-1zM301 177h1v1h-1zM302 176h1v1h-1zM303 174h1v2h-1zM304 173h1v1h-1zM305 172h1v1h-1zM306 171h1v1h-1zM307 170h1v1h-1zM308 169h1v1h-1zM309 168h1v1h-1zM310 167h1v1h-1zM311 165h1v2h-1zM312 164h1v1h-1zM313 163h1v1h-1zM314 162h1v1h-1zM315 161h1v1h-1zM316 160h1v1h-1zM317 159h2v1h-2zM319 158h2v1h-2zM321 157h2v1h-2zM323 156h2v1h-2zM325 155h2v1h-2zM327 154h2v1h-2zM329 153h2v1h-2zM331 152h1v1h-1zM332 151h1v1h-1zM333 150h1v1h-1zM334 148h1v2h-1zM335 147h1v1h-1zM336 146h1v1h-1zM337 144h1v2h-1zM338 143h1v1h-1zM339 142h1v1h-1zM340 140h1v2h-1zM341 139h1v1h-1zM342 137h1v2h-1zM343 136h1v1h-1zM344 135h1v1h-1zM345 134h1v1h-1zM346 133h1v1h-1zM347 132h1v1h-1zM348 131h1v1h-1zM349 130h1v1h-1zM350 129h1v1h-1zM351 128h1v1h-1zM352 127h1v1h-1zM353 126h1v1h-1zM354 125h1v1h-1zM355 124h1v1h-1zM356 123h1v1h-1zM357 122h1v1h-1zM358 121h1v1h-1zM359 120h1v1h-1zM360 119h1v1h-1zM361 118h1v1h-1zM362 117h1v1h-1zM363 116h1v1h-1zM364 115h1v1h-1zM365 114h1v1h-1zM366 113h1v1h-1zM367 112h1v1h-1zM368 111h1v1h-1zM369 110h1v1h-1zM370 109h1v1h-1zM371 107h1v2h-1zM372 106h1v1h-1zM373 105h1v1h-1zM374 104h1v1h-1zM375 103h1v1h-1zM376 102h1v1h-1zM377 101h3v1h-3zM380 100h2v1h-2zM382 99h2v1h-2zM384 100h4v1h-4zM388 101h4v1h-4zM392 102h2v1h-2zM394 103h2v1h-2zM396 104h2v1h-2zM398 105h2v1h-2zM400 106h2v1h-2zM402 107h2v1h-2zM404 108h2v1h-2zM406 109h1v1h-1zM407 110h2v1h-2zM409 111h2v1h-2zM411 112h1v1h-1zM412 113h1v1h-1zM413 114h1v1h-1zM414 115h1v2h-1zM415 117h1v1h-1zM416 118h1v1h-1zM417 119h1v2h-1zM418 121h1v1h-1zM419 122h1v1h-1zM420 123h1v1h-1zM421 124h1v1h-1zM422 125h1v1h-1zM423 126h1v1h-1zM424 127h1v1h-1zM425 128h1v1h-1zM426 129h1v1h-1zM427 130h1v1h-1zM428 131h1v1h-1zM429 132h1v1h-1zM430 133h1v1h-1zM431 134h1v1h-1zM432 135h1v1h-1zM433 136h1v1h-1zM434 137h1v1h-1zM435 138h1v2h-1zM436 140h1v1h-1zM437 141h1v1h-1zM438 142h1v2h-1zM439 144h1v1h-1zM440 145h1v2h-1zM441 147h1v2h-1zM442 149h1v1h-1zM443 150h1v2h-1zM444 152h1v1h-1zM445 153h1v1h-1zM446 154h1v1h-1zM447 155h1v2h-1zM448 157h1v1h-1zM449 158h1v1h-1zM450 159h1v2h-1zM451 161h1v1h-1zM452 162h1v2h-1zM453 164h1v1h-1zM454 165h1v2h-1zM455 167h1v1h-1zM456 168h1v2h-1zM457 170h1v1h-1zM458 171h1v2h-1zM459 173h1v1h-1zM460 174h1v2h-1zM461 176h1v2h-1zM462 178h1v2h-1zM463 180h1v1h-1zM464 181h1v2h-1zM465 183h1v2h-1zM466 185h1v2h-1zM467 187h1v1h-1zM468 188h1v2h-1zM469 190h1v1h-1zM470 191h1v2h-1zM471 193h1v2h-1zM472 195h1v1h-1zM473 196h1v2h-1zM474 198h1v1h-1zM475 199h1v2h-1zM476 201h1v1h-1zM477 202h1v1h-1zM478 203h1v2h-1zM479 205h1v1h-1zM480 206h1v2h-1zM481 208h1v1h-1zM482 209h1v1h-1zM483 210h1v2h-1zM484 212h1v1h-1zM485 213h1v1h-1zM486 214h1v2h-1zM487 216h1v1h-1zM488 217h1v1h-1zM489 218h1v2h-1zM490 220h1v1h-1zM491 221h1v1h-1zM492 222h1v2h-1zM493 224h1v1h-1zM494 225h1v1h-1zM495 226h1v2h-1zM496 228h1v1h-1zM497 229h1v2h-1zM498 231h1v1h-1zM499 232h1v2h-1zM500 234h1v2h-1zM501 236h1v1h-1zM502 237h1v2h-1zM503 239h1v1h-1zM504 240h1v2h-1zM505 242h1v2h-1zM506 244h2v1h-2zM508 245h1v1h-1zM509 246h2v1h-2zM511 247h2v1h-2zM513 248h1v1h-1zM514 249h2v1h-2zM516 250h1v1h-1zM517 251h2v1h-2zM519 252h1v1h-1zM520 253h2v1h-2zM522 254h1v1h-1zM523 255h2v1h-2zM525 256h2v1h-2zM527 257h2v1h-2zM529 258h2v1h-2zM531 259h2v1h-2zM533 260h2v1h-2zM535 261h2v1h-2zM537 262h3v1h-3zM540 263h4v1h-4zM544 264h3v1h-3zM547 265h3v1h-3zM550 266h13v1h-13zM563 265h5v1h-5zM568 264h5v1h-5zM573 263h3v1h-3zM576 262h3v1h-3zM579 261h2v1h-2zM581 260h2v1h-2zM583 259h2v1h-2zM585 258h2v1h-2zM587 257h2v1h-2zM589 256h2v1h-2zM591 255h2v1h-2zM593 254h3v1h-3zM596 253h2v1h-2zM598 252h1v1h-1zM599 251h2v1h-2zM601 250h1v1h-1zM602 249h1v1h-1zM603 248h2v1h-2zM605 247h1v1h-1zM606 246h2v1h-2zM608 245h1v1h-1zM609 244h2v1h-2zM611 243h1v1h-1zM612 242h1v1h-1zM613 241h1v1h-1zM614 240h1v1h-1zM615 239h1v1h-1zM616 238h1v1h-1zM617 237h1v1h-1zM618 236h1v1h-1zM619 235h1v1h-1zM620 234h1v1h-1zM621 233h1v1h-1zM622 232h1v1h-1zM623 231h1v1h-1zM624 230h1v1h-1zM625 229h1v1h-1zM626 228h1v1h-1zM627 227h1v1h-1zM628 226h1v1h-1zM629 225h1v1h-1zM630 224h1v1h-1zM631 223h1v1h-1zM632 222h1v1h-1zM633 221h1v1h-1zM634 220h1v1h-1zM635 219h1v1h-1zM636 218h1v1h-1zM637 217h1v1h-1zM638 216h1v1h-1zM639 215h1v1h-1zM640 214h1v1h-1zM641 213h1v1h-1zM642 212h1v1h-1zM643 211h1v1h-1zM644 210h1v1h-1zM645 209h1v1h-1zM646 208h1v1h-1zM647 207h1v1h-1zM648 206h1v1h-1zM649 205h1v1h-1zM650 204h1v1h-1zM651 203h1v1h-1zM652 202h1v1h-1zM653 201h1v1h-1zM654 200h1v1h-1zM655 199h1v1h-1zM656 198h1v1h-1zM657 197h1v1h-1zM658 196h1v1h-1zM659 195h1v1h-1zM660 194h1v1h-1zM661 193h1v1h-1zM662 192h1v1h-1zM663 191h1v1h-1zM664 190h2v1h-2zM666 189h2v1h-2zM668 188h2v1h-2zM670 187h2v1h-2zM672 186h1v1h-1zM673 185h1v1h-1zM674 184h2v1h-2zM676 183h1v1h-1zM677 182h1v1h-1zM678 181h1v1h-1zM679 180h1v1h-1zM680 179h2v1h-2zM682 178h1v1h-1zM683 177h1v1h-1zM684 176h1v1h-1zM685 175h2v1h-2zM687 174h1v1h-1zM688 173h2v1h-2zM690 172h2v1h-2zM692 171h1v1h-1zM693 170h2v1h-2zM695 169h2v1h-2zM697 168h2v1h-2zM699 167h1v1h-1zM700 166h2v1h-2zM702 165h1v1h-1zM703 164h1v1h-1zM704 163h1v1h-1zM705 162h1v1h-1zM706 161h1v1h-1zM707 160h2v1h-2zM709 159h1v1h-1zM710 158h2v1h-2zM712 157h2v1h-2zM714 156h2v1h-2zM716 155h2v1h-2zM718 154h3v1h-3zM721 153h10v1h-10zM731 154h5v1h-5zM736 155h3v1h-3zM739 156h3v1h-3zM742 157h3v1h-3zM745 158h3v1h-3zM748 159h2v1h-2zM750 160h2v1h-2zM752 161h1v1h-1zM753 162h2v1h-2zM755 163h2v1h-2zM757 164h2v1h-2zM759 165h2v1h-2zM761 166h2v1h-2zM763 167h3v1h-3zM766 168h2v1h-2zM768 169h3v1h-3zM771 170h2v1h-2zM773 171h3v1h-3zM776 172h2v1h-2zM778 173h3v1h-3zM781 174h2v1h-2zM783 175h2v1h-2zM785 176h2v1h-2zM787 177h1v1h-1zM788 178h2v1h-2zM790 179h2v1h-2zM792 180h2v1h-2zM794 181h1v1h-1zM795 182h1v1h-1zM796 183h1v1h-1zM797 184h1v1h-1zM798 185h1v1h-1zM799 186h2v1h-2zM801 187h1v1h-1zM802 188h1v1h-1zM803 189h1v1h-1zM804 190h1v1h-1zM805 191h1v1h-1zM806 192h2v1h-2zM808 193h1v1h-1zM809 194h1v1h-1zM810 195h1v1h-1zM811 196h1v1h-1zM812 197h1v1h-1zM813 198h1v1h-1zM814 199h1v1h-1zM815 200h1v1h-1zM816 201h2v1h-2zM818 202h1v1h-1zM819 203h1v1h-1zM820 204h1v1h-1zM821 205h1v1h-1zM822 206h1v1h-1zM823 207h1v1h-1zM824 208h1v1h-1zM825 209h1v1h-1zM826 210h1v1h-1zM827 211h1v1h-1zM828 212h1v1h-1zM829 213h1v1h-1zM830 214h1v2h-1zM831 216h1v1h-1zM832 217h1v1h-1zM833 218h1v1h-1zM834 219h1v1h-1zM835 220h1v1h-1zM836 221h1v1h-1zM837 222h1v1h-1zM838 223h1v1h-1zM839 224h1v1h-1zM840 225h1v1h-1zM841 226h1v1h-1zM842 227h1v1h-1zM843 228h1v1h-1zM844 229h1v1h-1zM845 230h1v1h-1zM846 231h1v1h-1zM847 232h1v1h-1zM848 233h1v1h-1zM849 234h1v1h-1zM850 235h1v1h-1zM851 236h1v1h-1zM852 237h1v1h-1zM853 238h1v1h-1zM854 239h1v1h-1zM855 240h1v1h-1zM856 241h1v1h-1zM857 242h1v1h-1zM858 243h1v1h-1zM859 244h2v1h-2zM861 245h1v1h-1zM862 246h1v1h-1zM863 247h1v1h-1zM864 248h1v1h-1zM865 249h1v1h-1zM866 250h1v1h-1zM867 251h1v1h-1zM868 252h1v1h-1zM869 253h1v1h-1zM870 254h1v1h-1zM871 255h1v1h-1zM872 256h1v1h-1zM873 257h1v1h-1zM874 258h2v1h-2zM876 259h1v1h-1zM877 260h1v1h-1zM878 261h1v1h-1zM879 262h1v1h-1zM880 263h1v1h-1zM881 264h1v1h-1zM882 265h2v1h-2zM884 266h1v1h-1zM885 267h2v1h-2zM887 268h1v1h-1zM888 269h2v1h-2zM890 270h1v1h-1zM891 271h1v1h-1zM892 272h2v1h-2zM894 273h1v1h-1zM895 274h2v1h-2zM897 275h1v1h-1zM898 276h2v1h-2zM900 277h1v1h-1zM901 278h1v1h-1zM902 279h2v1h-2zM904 280h1v1h-1zM905 281h1v1h-1zM906 282h1v1h-1zM907 283h1v1h-1zM908 284h2v1h-2zM910 285h1v2h-1zM911 287h1v1h-1zM912 288h1v1h-1zM913 289h1v2h-1zM914 291h1v1h-1zM915 292h1v2h-1zM916 294h1v1h-1zM917 295h1v2h-1zM918 297h1v1h-1zM919 298h1v2h-1zM920 300h1v1h-1zM921 301h1v1h-1zM922 302h1v2h-1zM923 304h1v1h-1zM924 305h1v1h-1zM925 306h1v1h-1zM926 307h1v1h-1zM927 308h1v1h-1zM928 309h1v1h-1zM929 310h1v1h-1zM930 311h1v2h-1zM931 313h1v1h-1zM932 314h1v1h-1zM933 315h1v1h-1zM934 316h1v1h-1zM935 317h1v1h-1zM936 318h1v1h-1zM937 319h1v1h-1zM938 320h1v1h-1zM939 321h1v1h-1zM940 322h1v1h-1zM941 323h1v1h-1zM942 324h1v1h-1zM943 325h1v2h-1zM944 327h1v1h-1zM945 328h1v1h-1zM946 329h1v1h-1zM947 330h1v1h-1zM948 331h1v1h-1zM949 332h1v1h-1zM950 333h1v1h-1zM951 334h1v1h-1zM952 335h1v1h-1zM953 336h1v1h-1zM954 337h1v2h-1zM955 339h1v1h-1zM956 340h1v1h-1zM957 341h1v1h-1zM958 342h1v1h-1zM959 343h1v1h-1zM960 344h1v1h-1zM961 345h1v1h-1zM962 346h1v1h-1zM963 347h1v1h-1zM964 348h1v1h-1zM965 349h1v1h-1zM966 350h1v1h-1zM967 351h1v1h-1zM968 352h1v1h-1zM969 353h1v1h-1zM970 354h1v1h-1zM971 355h1v1h-1zM972 356h1v1h-1zM973 357h2v1h-2zM975 358h1v1h-1zM976 359h1v1h-1zM977 360h1v1h-1zM978 361h2v1h-2zM980 362h1v1h-1zM981 363h2v1h-2zM983 364h2v1h-2zM985 365h2v1h-2zM987 366h2v1h-2zM989 367h2v1h-2zM991 368h2v1h-2zM993 369h2v1h-2zM995 370h2v1h-2zM997 371h1v1h-1z"/>
<text transform="translate(1009.4,55) scale(1.1579,1)" x="0.00 7.70 15.41 23.11" fill="#000" stroke="#000" stroke-width="0.4">4600</text>
<text transform="translate(1009.4,157) scale(1.1579,1)" x="0.00 7.70 15.41 23.11" fill="#000" stroke="#000" stroke-width="0.4">4200</text>
<text transform="translate(1009.4,258) scale(1.1579,1)" x="0.00 7.70 15.41 23.11" fill="#000" stroke="#000" stroke-width="0.4">3800</text>
<text transform="translate(1009.4,360) scale(1.1579,1)" x="0.00 7.70 15.41 23.11" fill="#000" stroke="#000" stroke-width="0.4">3400</text>
<text transform="translate(1009.4,512) scale(1.1579,1)" x="0.00 7.70 15.41 23.11 30.81 38.52" fill="#000" stroke="#000" stroke-width="0.4">200000</text>
<text x="1009.4" y="236" fill="#006400" stroke="#006400" stroke-width="0.4" style="font-family:'Liberation Mono',monospace;font-size:15px">MA</text><text transform="translate(1027.4,236) scale(1.1579,1)" x="0.00 7.70 15.41" fill="#006400" stroke="#006400" stroke-width="0.4">200</text>
<text x="1009.4" y="265" fill="#ffa500" stroke="#ffa500" stroke-width="0.4" style="font-family:'Liberation Mono',monospace;font-size:15px">MA</text><text transform="translate(1027.4,265) scale(1.1579,1)" x="0.00 7.70" fill="#ffa500" stroke="#ffa500" stroke-width="0.4">75</text>
<text x="1009.4" y="374" fill="#ff1493" stroke="#ff1493" stroke-width="0.4" style="font-family:'Liberation Mono',monospace;font-size:15px">MA</text><text transform="translate(1027.4,374) scale(1.1579,1)" x="0.00 7.70" fill="#ff1493" stroke="#ff1493" stroke-width="0.4">25</text>
<text transform="translate(194.7,470) scale(1.1579,1)" x="0.00 7.70 15.41 23.11 30.81 38.52 46.22 53.92 61.63 69.33" fill="#000" stroke="#000" stroke-width="0.4">2025<tspan style="font-family:'Liberation Mono',monospace;font-size:12.85px">/</tspan>05<tspan style="font-family:'Liberation Mono',monospace;font-size:12.85px">/</tspan>07</text>
<text transform="translate(444.7,470) scale(1.1579,1)" x="0.00 7.70 15.41 23.11 30.81 38.52 46.22 53.92 61.63 69.33" fill="#000" stroke="#000" stroke-width="0.4">2025<tspan style="font-family:'Liberation Mono',monospace;font-size:12.85px">/</tspan>07<tspan style="font-family:'Liberation Mono',monospace;font-size:12.85px">/</tspan>16</text>
<text transform="translate(694.7,470) scale(1.1579,1)" x="0.00 7.70 15.41 23.11 30.81 38.52 46.22 53.92 61.63 69.33" fill="#000" stroke="#000" stroke-width="0.4">2025<tspan style="font-family:'Liberation Mono',monospace;font-size:12.85px">/</tspan>09<tspan style="font-family:'Liberation Mono',monospace;font-size:12.85px">/</tspan>30</text>
<text transform="translate(944.7,470) scale(1.1579,1)" x="0.00 7.70 15.41 23.11 30.81 38.52 46.22 53.92 61.63 69.33" fill="#000" stroke="#000" stroke-width="0.4">2025<tspan style="font-family:'Liberation Mono',monospace;font-size:12.85px">/</tspan>12<tspan style="font-family:'Liberation Mono',monospace;font-size:12.85px">/</tspan>12</text>
</svg></div></body></html>
